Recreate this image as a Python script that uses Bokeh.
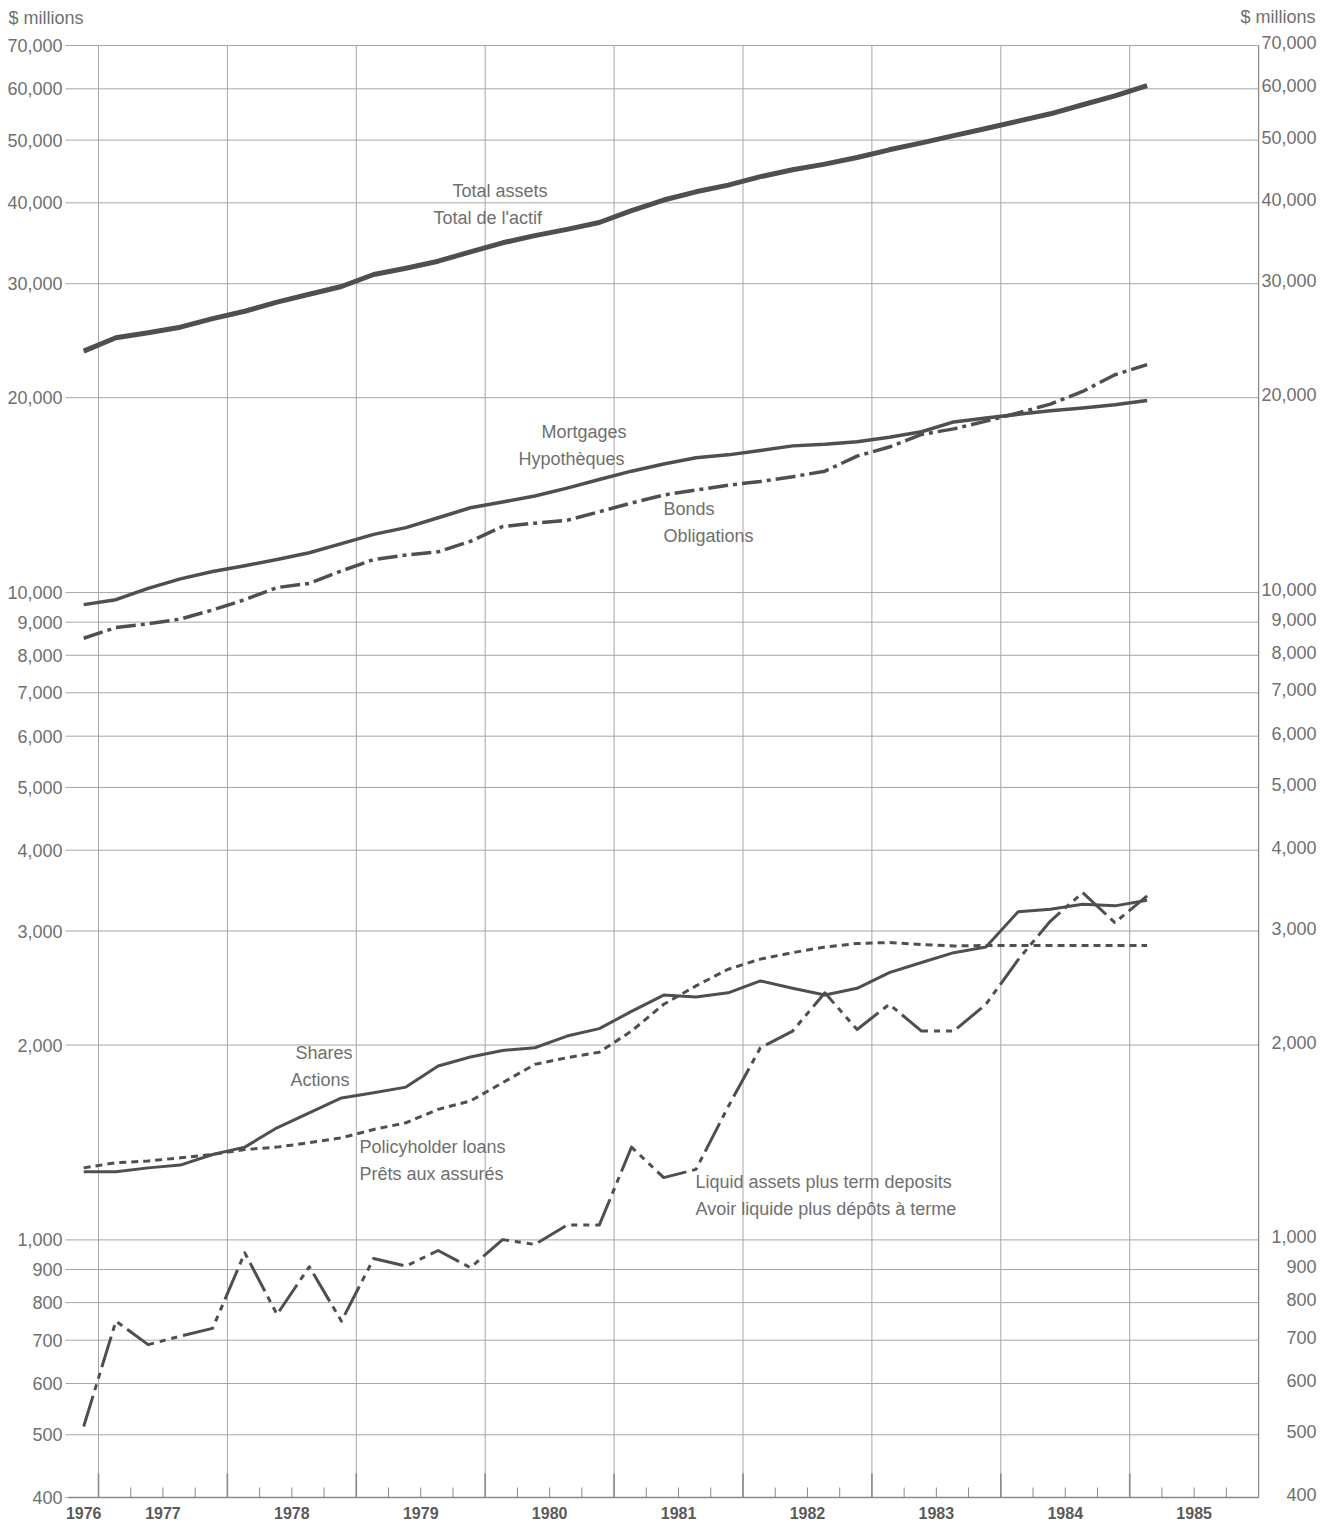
import math
from bokeh.plotting import figure
from bokeh.models import FixedTicker, Range1d, CustomJSTickFormatter
from bokeh.core.properties import value
from bokeh.embed import file_html
from bokeh.resources import INLINE

# ---------------- data ($ millions, quarterly, 1976 Q4 .. 1985 Q1) ----------------
quarters = [(1976, 4)] + [(y, q) for y in range(1977, 1985) for q in (1, 2, 3, 4)] + [(1985, 1)]

total_assets = [23600, 24750, 25200, 25700, 26500, 27200, 28100, 28900, 29700, 31000,
                31700, 32500, 33600, 34700, 35600, 36400, 37300, 38900, 40400, 41600,
                42600, 43900, 45000, 45900, 47000, 48300, 49500, 50800, 52100, 53500,
                54900, 56700, 58500, 60700]
mortgages = [9580, 9750, 10150, 10500, 10780, 11000, 11250, 11520, 11900, 12300,
             12600, 13050, 13520, 13800, 14100, 14500, 14950, 15400, 15800, 16150,
             16320, 16580, 16850, 16950, 17100, 17380, 17720, 18350, 18600, 18850,
             19100, 19280, 19500, 19800]
bonds = [8500, 8830, 8950, 9100, 9400, 9750, 10180, 10330, 10800, 11250,
         11430, 11560, 12000, 12650, 12800, 12930, 13330, 13750, 14150, 14400,
         14650, 14850, 15100, 15400, 16250, 16780, 17550, 17900, 18400, 18950,
         19550, 20450, 21700, 22500]
shares = [1274, 1274, 1292, 1305, 1355, 1391, 1490, 1571, 1657, 1688,
          1722, 1856, 1917, 1962, 1981, 2065, 2120, 2254, 2389, 2372,
          2408, 2512, 2447, 2389, 2447, 2587, 2682, 2778, 2835, 3214,
          3242, 3300, 3281, 3347]
policy_loans = [1292, 1316, 1324, 1339, 1355, 1379, 1391, 1413, 1438, 1481,
                1517, 1591, 1639, 1749, 1867, 1912, 1950, 2102, 2312, 2468,
                2619, 2715, 2778, 2835, 2870, 2880, 2860, 2845, 2850, 2850,
                2850, 2850, 2850, 2850]
liquid_assets = [515, 749, 689, 710, 730, 955, 767, 909, 749, 936,
                 911, 963, 906, 1001, 984, 1054, 1054, 1391, 1248, 1285,
                 1606, 1981, 2102, 2408, 2114, 2312, 2102, 2102, 2312, 2710,
                 3109, 3439, 3091, 3400]

y_ticks = [400, 500, 600, 700, 800, 900, 1000, 2000, 3000, 4000, 5000, 6000, 7000,
           8000, 9000, 10000, 20000, 30000, 40000, 50000, 60000, 70000]
y_tick_labels = [f"{v:,}" for v in y_ticks]
years = list(range(1976, 1986))
X_END = 1986.0
Y_MIN, Y_MAX = 400, 70000

# ---------------- layout helpers (screen px -> data) ----------------
W, H_FRAME = 1320, 1506
PX_X0, PX_PER_YEAR = 98.0, 128.9           # 1977.0 gridline, width of a year
PX_Y70K, PX_Y400 = 45.0, 1497.0
PX_PER_DEC = (PX_Y400 - PX_Y70K) / math.log10(Y_MAX / Y_MIN)


def xp(px):
    return 1977 + (px - PX_X0) / PX_PER_YEAR


def yp(py):
    return Y_MAX * 10 ** (-(py - PX_Y70K) / PX_PER_DEC)


FONT = "Liberation Sans"
LINE = "#4f4f4f"
TXT = "#6f6f6f"
GRID = "#a6a6a6"
AXIS = "#8a8a8a"

xs = [y + (q - 1) * 0.25 + 0.135 for (y, q) in quarters]

p = figure(frame_width=W, frame_height=H_FRAME,
           x_range=Range1d(xp(0), xp(W)), y_range=Range1d(yp(H_FRAME), yp(0)),
           y_axis_type="log", y_axis_location=None,
           output_backend="svg", toolbar_location=None,
           min_border_left=0, min_border_right=0, min_border_top=0, min_border_bottom=18)
p.outline_line_color = None
p.grid.grid_line_color = None

# bottom axis: only the year labels, centred in each year
label_pos = [1976.885] + [y + 0.5 for y in years[1:]]
p.xaxis.ticker = FixedTicker(ticks=label_pos)
p.xaxis.formatter = CustomJSTickFormatter(code="return String(Math.floor(tick));")
p.xaxis.axis_line_color = None
p.xaxis.major_tick_in = 0
p.xaxis.major_tick_out = 0
p.xaxis.minor_tick_in = 0
p.xaxis.minor_tick_out = 0
p.xaxis.major_label_text_font = FONT
p.xaxis.major_label_text_font_style = "bold"
p.xaxis.major_label_text_font_size = "16px"
p.xaxis.major_label_text_color = "#5a5a5a"
p.xaxis.major_label_standoff = 0

# grid
n = len(y_ticks)
p.segment(x0=[xp(65)] * n, y0=y_ticks, x1=[X_END] * n, y1=y_ticks,
          line_color=GRID, line_width=1)
p.segment(x0=years[1:], y0=[Y_MIN] * 9, x1=years[1:], y1=[Y_MAX] * 9,
          line_color=GRID, line_width=1)
# frame: bottom axis line, right border, quarterly ticks
p.segment(x0=[xp(68)], y0=[Y_MIN], x1=[X_END], y1=[Y_MIN], line_color=AXIS, line_width=1.6)
p.segment(x0=[X_END], y0=[Y_MIN], x1=[X_END], y1=[Y_MAX], line_color=AXIS, line_width=1.3)
qticks = [y + f for y in years[1:] for f in (0.25, 0.5, 0.75)]
p.segment(x0=qticks, y0=[Y_MIN] * len(qticks), x1=qticks, y1=[yp(PX_Y400 - 10)] * len(qticks),
          line_color=AXIS, line_width=1)
p.segment(x0=years[1:], y0=[Y_MIN] * 9, x1=years[1:], y1=[yp(PX_Y400 - 24)] * 9,
          line_color=AXIS, line_width=1.6)

# y tick labels, both sides, right aligned
p.text(x=[xp(62)] * n, y=y_ticks, text=y_tick_labels, text_font=value(FONT),
       text_font_size="18px", text_color=TXT, text_align="right", text_baseline="middle")
p.text(x=[xp(1316)] * n, y=y_ticks, text=y_tick_labels, text_font=value(FONT),
       text_font_size="18px", text_color=TXT, text_align="right", text_baseline="middle",
       y_offset=-3)
p.text(x=[xp(8)], y=[yp(17)], text=["$ millions"], text_font=value(FONT),
       text_font_size="18px", text_color=TXT, text_align="left", text_baseline="middle")
p.text(x=[xp(1315)], y=[yp(16)], text=["$ millions"], text_font=value(FONT),
       text_font_size="18px", text_color=TXT, text_align="right", text_baseline="middle")

# ---------------- series ----------------
p.line(xs, total_assets, line_color=LINE, line_width=5, line_join="round")
p.line(xs, mortgages, line_color=LINE, line_width=3.5, line_join="round")
p.line(xs, bonds, line_color=LINE, line_width=3.5, line_dash="20 5 4 5", line_join="round")
p.line(xs, shares, line_color=LINE, line_width=3, line_join="round")
p.line(xs, policy_loans, line_color=LINE, line_width=3, line_dash="7 5")
p.line(xs, liquid_assets, line_color=LINE, line_width=3, line_dash="32 6 6 6 6 6",
       line_join="round")

# ---------------- series labels ----------------
labels = [("Total assets", 452, 190), ("Total de l'actif", 433, 217),
          ("Mortgages", 541, 431), ("Hypothèques", 518, 458),
          ("Bonds", 663, 508), ("Obligations", 663, 535),
          ("Shares", 295, 1052), ("Actions", 290, 1079),
          ("Policyholder loans", 359, 1146), ("Prêts aux assurés", 359, 1173),
          ("Liquid assets plus term deposits", 695, 1181),
          ("Avoir liquide plus dépôts à terme", 695, 1208)]
p.text(x=[xp(a) for _, a, _ in labels], y=[yp(b) for _, _, b in labels],
       text=[t for t, _, _ in labels], text_font=value(FONT), text_font_size="18px",
       text_color=TXT, text_align="left", text_baseline="middle")

open("out.html", "w").write(file_html(p, INLINE))
